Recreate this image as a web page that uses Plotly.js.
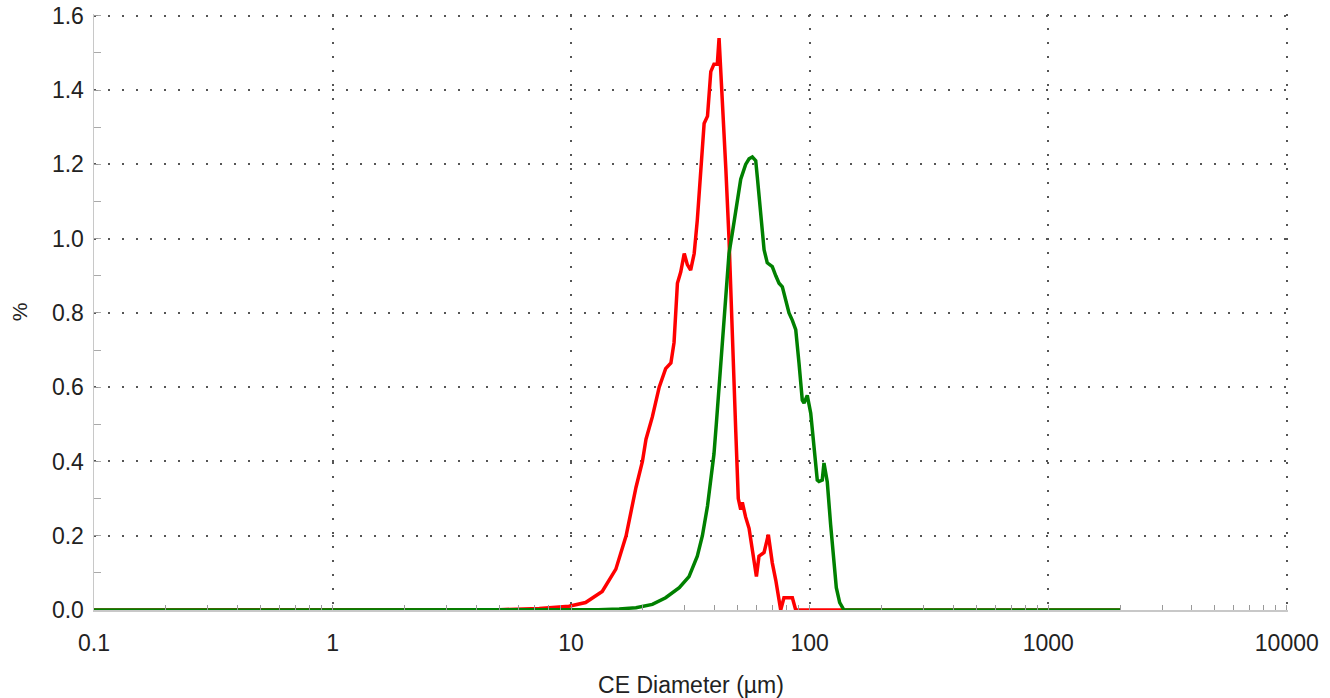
<!DOCTYPE html>
<html>
<head>
<meta charset="utf-8">
<script src="https://cdn.plot.ly/plotly-3.0.1.min.js"></script>
<style>
html,body{margin:0;padding:0;background:#fff;}
#chart{width:1330px;height:698px;}
</style>
</head>
<body>
<div id="chart"></div>
<script>
// CE Diameter (µm) and % for each sample
const redDiameter = [0.1, 3, 5, 7.35, 9.8, 11.5, 13.5, 15.4, 17.0, 18.7, 19.9, 20.6, 21.9, 23.4, 24.9, 26.2, 27.0, 27.9, 28.8, 29.8, 30.7, 31.7, 32.8, 33.8, 36.1, 37.3, 38.5, 39.7, 41.0, 41.7, 43.1, 44.5, 45.9, 47.4, 49.0, 50.2, 51.4, 52.2, 53.9, 55.7, 57.5, 59.8, 61.3, 64.4, 67.1, 69.7, 72.1, 75.6, 78.0, 84.6, 87.4, 2000];
const redPercent  = [0, 0, 0.001, 0.004, 0.01, 0.02, 0.05, 0.11, 0.2, 0.33, 0.40, 0.46, 0.52, 0.60, 0.65, 0.665, 0.72, 0.88, 0.91, 0.96, 0.93, 0.915, 0.96, 1.05, 1.31, 1.33, 1.45, 1.47, 1.47, 1.54, 1.37, 1.19, 1.0, 0.72, 0.48, 0.30, 0.27, 0.29, 0.25, 0.22, 0.16, 0.09, 0.145, 0.155, 0.203, 0.127, 0.08, 0, 0.033, 0.033, 0, 0];

const greenDiameter = [0.1, 10, 13, 15.9, 18.7, 21.9, 24.9, 28.4, 31.2, 33.8, 35.5, 37.3, 38.9, 39.7, 40.6, 41.7, 42.6, 44.5, 45.9, 47.4, 49.0, 51.4, 53.9, 55.7, 57.5, 59.4, 60.3, 62.3, 64.4, 66.4, 69.7, 72.1, 74.4, 76.8, 79.3, 81.9, 84.6, 87.4, 90.2, 93.1, 94.7, 97.7, 101.0, 104.2, 107.6, 109.4, 112.9, 114.8, 118.5, 122.4, 126.4, 129.3, 133.6, 139.2, 2000];
const greenPercent  = [0, 0, 0.001, 0.003, 0.006, 0.015, 0.033, 0.06, 0.09, 0.145, 0.2, 0.28, 0.38, 0.42, 0.50, 0.60, 0.68, 0.83, 0.96, 1.015, 1.08, 1.16, 1.20, 1.215, 1.22, 1.21, 1.167, 1.06, 0.97, 0.935, 0.925, 0.90, 0.88, 0.87, 0.83, 0.80, 0.78, 0.755, 0.665, 0.565, 0.557, 0.578, 0.53, 0.44, 0.35, 0.346, 0.35, 0.396, 0.345, 0.23, 0.13, 0.06, 0.02, 0, 0];

const xTickVals = [0.1, 1, 10, 100, 1000, 10000];
const xTickText = ['0.1', '1', '10', '100', '1000', '10000'];
const yTickVals = [0, 0.2, 0.4, 0.6, 0.8, 1.0, 1.2, 1.4, 1.6];

const xMinor = [];
for (let d = 0.1; d < 9000; d *= 10) {
  for (let k = 2; k <= 9; k++) xMinor.push(+(d * k).toPrecision(3));
}

const fam = 'Liberation Sans, Arial, Helvetica, sans-serif';
const font = {family: fam, size: 23, color: '#222'};

const traces = [
  {x: redDiameter, y: redPercent, type: 'scatter', mode: 'lines',
   line: {color: '#ff0000', width: 3.5}, hoverinfo: 'x+y', showlegend: false},
  {x: greenDiameter, y: greenPercent, type: 'scatter', mode: 'lines',
   line: {color: '#008000', width: 3.5}, hoverinfo: 'x+y', showlegend: false}
];

const layout = {
  width: 1330, height: 698,
  margin: {l: 94, r: 42, t: 14, b: 88},
  paper_bgcolor: '#fff', plot_bgcolor: '#fff',
  font: font,
  showlegend: false,
  xaxis: {
    type: 'log', range: [-1, 4.005],
    tickmode: 'array', tickvals: xTickVals, ticktext: xTickText,
    showgrid: true, gridcolor: '#555', gridwidth: 2, griddash: '2px,12px',
    showline: true, linecolor: '#c8c8c8', linewidth: 1.5,
    ticks: 'inside', ticklen: 5, tickcolor: '#999', tickwidth: 1,
    ticklabelstandoff: 12,
    minor: {tickmode: 'array', tickvals: xMinor, ticks: 'inside', ticklen: 5, tickcolor: '#999', tickwidth: 1, showgrid: false},
    zeroline: false, fixedrange: true,
    title: {text: 'CE Diameter (µm)', font: {family: fam, size: 23, color: '#222'}, standoff: 22}
  },
  yaxis: {
    range: [0, 1.605],
    tickmode: 'array', tickvals: yTickVals, tickformat: '.1f',
    showgrid: true, gridcolor: '#555', gridwidth: 2, griddash: '2px,12px',
    showline: true, linecolor: '#c8c8c8', linewidth: 1.5,
    ticks: 'inside', ticklen: 4, tickcolor: '#999', tickwidth: 1,
    ticklabelstandoff: 4,
    minor: {dtick: 0.1, ticks: 'inside', ticklen: 7, tickcolor: '#aaa', tickwidth: 1, showgrid: false},
    zeroline: false, fixedrange: true,
    title: {text: '%', font: {family: fam, size: 21, color: '#222'}, standoff: 18}
  }
};

Plotly.newPlot('chart', traces, layout, {displayModeBar: false, staticPlot: true});
</script>
</body>
</html>
